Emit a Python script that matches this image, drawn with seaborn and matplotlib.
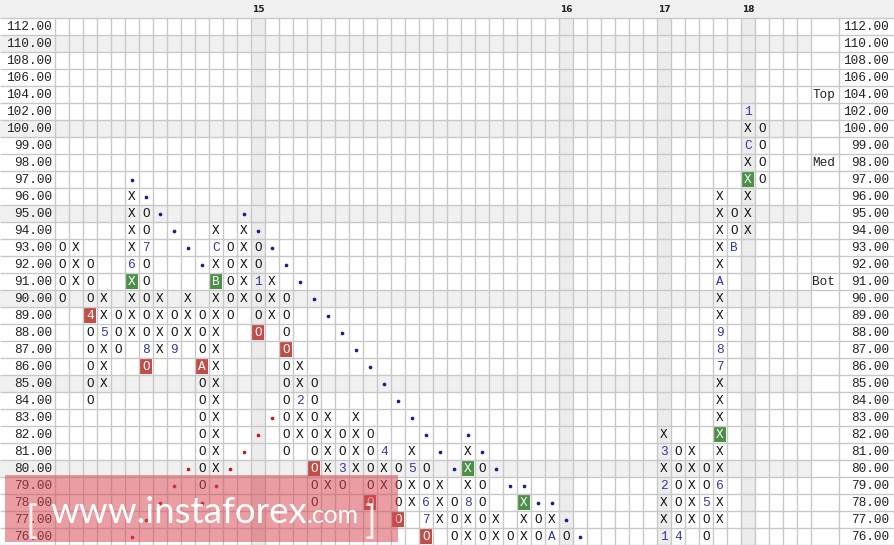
import matplotlib.pyplot as plt
import matplotlib.patches as mpatches
import seaborn as sns

# price levels (rows of the point & figure grid, top to bottom)
prices = [112, 110, 108, 106, 104, 102, 100, 99, 98, 97, 96, 95, 94, 93, 92, 91, 90,
          89, 88, 87, 86, 85, 84, 83, 82, 81, 80, 79, 78, 77, 76]
shaded_prices = [110, 100, 95, 90, 85, 80]
year_cols = [14, 36, 43, 49]
year_labels = ['15', '16', '17', '18']

# columns of X / O : index, kind, lowest box, highest box
col_ids = [0, 1, 2, 3, 4, 5, 6, 7, 8, 9, 10, 11, 12, 13, 14, 15, 16, 17, 18, 19, 20,
           21, 22, 23, 24, 25, 26, 27, 28, 29, 30, 31, 32, 33, 34, 35, 36,
           43, 44, 45, 46, 47, 48, 49, 50]
col_kinds = ['O', 'X', 'O', 'X', 'O', 'X', 'O', 'X', 'O', 'X', 'O', 'X', 'O', 'X', 'O',
             'X', 'O', 'X', 'O', 'X', 'O', 'X', 'O', 'X', 'O', 'X', 'O', 'X', 'O', 'X',
             'O', 'X', 'O', 'X', 'O', 'X', 'O',
             'X', 'O', 'X', 'O', 'X', 'O', 'X', 'O']
col_low = [90, 91, 84, 85, 87, 88, 86, 87, 87, 88, 79, 80, 89, 90, 88, 89, 81, 82, 78,
           79, 79, 80, 78, 79, 77, 78, 76, 77, 76, 76, 76, 76, 76, 76, 76, 76, 76,
           76, 76, 77, 76, 77, 93, 94, 97]
col_high = [93, 93, 92, 90, 89, 96, 95, 90, 89, 90, 89, 94, 93, 94, 93, 91, 90, 86, 85,
            83, 82, 83, 82, 81, 80, 81, 80, 79, 78, 81, 80, 77, 76, 78, 77, 77, 76,
            82, 81, 81, 80, 96, 95, 102, 100]

# month markers written in place of a box
month_marks = [(3, 88, '5'), (5, 92, '6'), (6, 93, '7'), (6, 87, '8'), (8, 87, '9'),
               (11, 93, 'C'), (14, 91, '1'), (17, 84, '2'), (20, 80, '3'), (23, 81, '4'),
               (25, 80, '5'), (26, 78, '6'), (26, 77, '7'), (29, 78, '8'), (35, 76, 'A'),
               (43, 76, '1'), (43, 79, '2'), (43, 81, '3'), (44, 76, '4'), (46, 78, '5'),
               (47, 79, '6'), (47, 86, '7'), (47, 87, '8'), (47, 88, '9'), (47, 91, 'A'),
               (48, 93, 'B'), (49, 99, 'C'), (49, 102, '1')]
red_boxes = [(2, 89, '4'), (6, 86, 'O'), (10, 86, 'A'), (14, 88, 'O'), (16, 87, 'O'),
             (18, 80, 'O'), (22, 78, 'O'), (24, 77, 'O'), (26, 76, 'O')]
green_boxes = [(5, 91, 'X'), (11, 91, 'B'), (29, 80, 'X'), (33, 78, 'X'), (47, 82, 'X'),
               (49, 97, 'X')]

# trend lines
blue_dot_cols = [5, 6, 7, 8, 9, 10, 13, 14, 15, 16, 17, 18, 19, 20, 21, 22, 23, 24, 25,
                 26, 27, 28, 29, 30, 31, 32, 33, 34, 35, 36, 37]
blue_dot_prices = [97, 96, 95, 94, 93, 92, 95, 94, 93, 92, 91, 90, 89, 88, 87, 86, 85,
                   84, 83, 82, 81, 80, 82, 81, 80, 79, 79, 78, 78, 77, 76]
red_dot_cols = [5, 6, 7, 8, 9, 10, 11, 12, 13, 14, 15]
red_dot_prices = [76, 77, 78, 79, 80, 78, 79, 80, 81, 82, 83]

side_marks = [(104, 'Top'), (98, 'Med'), (91, 'Bot')]

# layout in pixels
W, H = 894, 545
X0, Y0, CW, CH = 55, 18, 14, 17
NCOLS = 54

sns.set_style('white')
plt.rcParams['font.family'] = ['Liberation Mono', 'DejaVu Sans']

fig = plt.figure(figsize=(W / 100, H / 100), dpi=100)
ax = fig.add_axes([0, 0, 1, 1])
xmin, xmax = -X0 / CW, (W - X0) / CW
ymin, ymax = -Y0 / CH, (H - Y0) / CH
ax.set_xlim(xmin, xmax)
ax.set_ylim(ymax, ymin)
ax.axis('off')

row_of = {p: i for i, p in enumerate(prices)}
nrows = len(prices)

# background bands
ax.add_patch(mpatches.Rectangle((xmin, ymin), xmax - xmin, -ymin, color='#f0f0f0', lw=0))
for p in shaded_prices:
    ax.add_patch(mpatches.Rectangle((xmin, row_of[p]), NCOLS - xmin, 1, color='#f0f0f0', lw=0))
for c in year_cols:
    ax.add_patch(mpatches.Rectangle((c, 0), 1, nrows, color='#ececec', lw=0))

# grid
ax.hlines(range(nrows + 1), xmin, xmax, color='#c8c8c8', lw=1)
ax.vlines(list(range(NCOLS + 1)) + [56], 0, nrows, color='#c8c8c8', lw=1)

# year labels in header
for c, lab in zip(year_cols, year_labels):
    ax.text(c + 0.5, ymin / 2, lab, ha='center', va='center', fontsize=6.5,
            fontweight='bold', family='DejaVu Sans', color='#222222')

# price labels
for p in prices:
    r = row_of[p] + 0.55
    ax.text((52 - X0) / CW, r, f'{p:.2f}', ha='right', va='center', fontsize=9.2, color='#222222')
    ax.text((889 - X0) / CW, r, f'{p:.2f}', ha='right', va='center', fontsize=9.2, color='#222222')
for p, lab in side_marks:
    ax.text(54.1, row_of[p] + 0.55, lab, ha='left', va='center', fontsize=9.2, color='#222222')

# X / O boxes
special = {(c, p): ('blue', ch) for c, p, ch in month_marks}
special.update({(c, p): ('red', ch) for c, p, ch in red_boxes})
special.update({(c, p): ('green', ch) for c, p, ch in green_boxes})
for c, kind, lo, hi in zip(col_ids, col_kinds, col_low, col_high):
    for r in range(row_of[hi], row_of[lo] + 1):
        style, ch = special.get((c, prices[r]), ('plain', kind))
        color = {'plain': '#111111', 'blue': '#3535a5', 'red': 'white', 'green': 'white'}[style]
        if style in ('red', 'green'):
            fc = '#bf4d4a' if style == 'red' else '#4d8f49'
            ax.add_patch(mpatches.Rectangle((c + 0.07, r + 0.06), 0.86, 0.88, color=fc, lw=0))
        ax.text(c + 0.5, r + 0.55, ch, ha='center', va='center', fontsize=9.2, color=color)

# trend line dots
sns.scatterplot(x=[c + 0.5 for c in blue_dot_cols], y=[row_of[p] + 0.5 for p in blue_dot_prices],
                color='#1c1c8a', s=7, linewidth=0, ax=ax, legend=False)
sns.scatterplot(x=[c + 0.5 for c in red_dot_cols], y=[row_of[p] + 0.5 for p in red_dot_prices],
                color='#c41a1a', s=7, linewidth=0, ax=ax, legend=False)
ax.set_xlim(xmin, xmax)
ax.set_ylim(ymax, ymin)
ax.axis('off')

# watermark
wx0, wx1 = (5 - X0) / CW, (398 - X0) / CW
wy0, wy1 = (475 - Y0) / CH, (542 - Y0) / CH
ax.add_patch(mpatches.Rectangle((wx0, wy0), wx1 - wx0, wy1 - wy0, color='#d74650',
                                alpha=0.52, lw=0, zorder=5))
renderer = fig.canvas.get_renderer()


def fit_text(x_px, base_px, s, width_px, size, **kw):
    t = ax.text((x_px - X0) / CW, (base_px - Y0) / CH, s, fontsize=size, ha='left',
                va='baseline', zorder=6, **kw)
    w = t.get_window_extent(renderer).width
    t.set_fontsize(size * width_px / w)
    return t


fit_text(50, 523, 'www.instaforex', 257, 28, color='white', family='Lato')
fit_text(307, 523, '.com', 52, 18, color='white', family='Lato')
ax.text((26 - X0) / CW, (533 - Y0) / CH, '[', fontsize=28, color='white', alpha=0.85,
        family='Lato', ha='left', va='baseline', zorder=6)
ax.text((365 - X0) / CW, (533 - Y0) / CH, ']', fontsize=28, color='white', alpha=0.85,
        family='Lato', ha='left', va='baseline', zorder=6)

fig.savefig('out.png', dpi=100)
